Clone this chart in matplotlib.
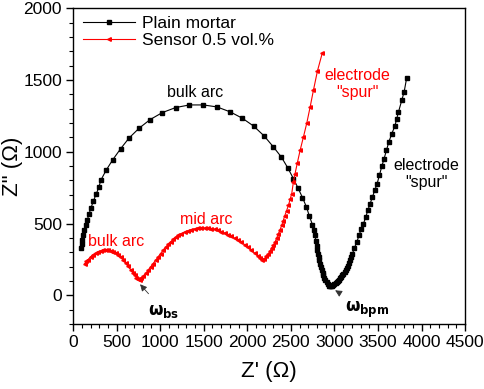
import matplotlib
matplotlib.use("Agg")
import matplotlib.pyplot as plt
from matplotlib.ticker import MultipleLocator

plt.rcParams['font.family'] = ['Liberation Sans', 'DejaVu Sans']

# Plain mortar (black)
plain_x = [92, 100, 107, 118, 130, 146, 164, 184, 207, 233, 264, 295, 318, 379, 456, 547, 643, 758,
           884, 1025, 1179, 1335, 1496, 1653, 1806, 1944, 2074, 2193, 2296, 2392, 2465, 2529, 2583,
           2633, 2679, 2713, 2747, 2770, 2778, 2786, 2795, 2805, 2813, 2821, 2828, 2835, 2845, 2855,
           2864, 2873, 2884, 2896, 2910, 2924, 2937, 2950, 2962, 2975, 2988, 3000, 3013, 3027, 3040,
           3053, 3065, 3078, 3090, 3103, 3116, 3130, 3142, 3155, 3168, 3180, 3193, 3207, 3229, 3257,
           3283, 3306, 3333, 3360, 3383, 3410, 3436, 3463, 3490, 3516, 3544, 3570, 3597, 3624, 3659,
           3693, 3715, 3735, 3773, 3800, 3829]
plain_y = [330, 360, 388, 418, 453, 488, 527, 569, 611, 657, 704, 751, 801, 871, 945, 1022, 1096, 1164,
           1224, 1273, 1308, 1326, 1326, 1312, 1277, 1233, 1178, 1110, 1036, 962, 887, 813, 746,
           681, 615, 550, 493, 453, 418, 380, 345, 314, 290, 267, 244, 221, 197, 174,
           156, 139, 121, 105, 90, 77, 67, 62, 63, 66, 70, 76, 84, 93, 101,
           110, 118, 128, 139, 151, 163, 176, 188, 205, 224, 244, 266, 290, 330, 372,
           418, 460, 499, 546, 592, 639, 685, 732, 778, 836, 899, 952, 1010, 1068, 1127,
           1178, 1230, 1277, 1359, 1417, 1514]

# Sensor 0.5 vol.% (red)
sensor_x = [134, 150, 172, 200, 230, 258, 287, 315, 344, 373, 402, 430, 459, 488, 517, 545, 574, 602,
            631, 660, 689, 708, 727, 746, 765, 785, 804, 832, 861, 890, 918, 947, 976, 1004, 1033,
            1062, 1091, 1120, 1148, 1177, 1205, 1243, 1282, 1320, 1358, 1396, 1435, 1473, 1512, 1550,
            1588, 1626, 1665, 1703, 1741, 1780, 1818, 1856, 1894, 1932, 1971, 2009, 2047, 2085, 2124,
            2150, 2173, 2195, 2220, 2242, 2262, 2280, 2300, 2319, 2338, 2357, 2376, 2395, 2412, 2430,
            2451, 2472, 2491, 2510, 2529, 2548, 2575, 2606, 2644, 2683, 2721, 2759, 2805, 2862]
sensor_y = [221, 236, 249, 268, 284, 294, 302, 309, 314, 315, 314, 309, 302, 294, 284, 268, 249, 226,
            202, 179, 156, 139, 123, 112, 109, 120, 132, 152, 174, 198, 221, 244, 267, 291, 314,
            335, 355, 373, 390, 405, 418, 430, 441, 450, 458, 463, 467, 469, 469, 468,
            465, 460, 453, 444, 434, 423, 411, 397, 383, 368, 353, 334, 314, 293, 272,
            258, 249, 255, 272, 290, 310, 330, 350, 372, 400, 430, 458, 488, 520, 555,
            590, 627, 668, 709, 790, 848, 925, 1010, 1103, 1201, 1312, 1429, 1563, 1691]

fig = plt.figure(figsize=(4.84, 3.89), dpi=100)
ax = fig.add_axes([0.151, 0.167, 0.810, 0.812])

ax.plot(plain_x, plain_y, color='black', lw=0.8, marker='s', ms=2.2, mec='black', mfc='black',
        label='Plain mortar')
ax.plot(sensor_x, sensor_y, color='red', lw=0.8, marker='<', ms=2.6, mec='red', mfc='red',
        label='Sensor 0.5 vol.%')

ax.set_xlim(0, 4500)
ax.set_ylim(-200, 2000)
ax.xaxis.set_major_locator(MultipleLocator(500))
ax.xaxis.set_minor_locator(MultipleLocator(100))
ax.yaxis.set_major_locator(MultipleLocator(500))
ax.yaxis.set_minor_locator(MultipleLocator(100))
ax.tick_params(which='major', direction='out', length=5, width=1, labelsize=12.5, pad=3)
ax.tick_params(which='minor', direction='out', length=3, width=0.8)
ax.set_yticks([0, 500, 1000, 1500, 2000])
for s in ax.spines.values():
    s.set_linewidth(1.0)

ax.set_xlabel("Z' (Ω)", fontsize=16, labelpad=8)
ax.set_ylabel('Z" (Ω)', fontsize=16, labelpad=0)

leg = ax.legend(loc='upper left', frameon=False, fontsize=12.5, handlelength=3.0,
                borderaxespad=0.3, labelspacing=0.15, handletextpad=0.4,
                bbox_to_anchor=(-0.005, 1.015))

ax.text(1406, 1411, 'bulk arc', ha='center', va='center', fontsize=11.5, color='black')
ax.text(499, 376, 'bulk arc', ha='center', va='center', fontsize=11.5, color='red')
ax.text(1527, 530, 'mid arc', ha='center', va='center', fontsize=11.5, color='red')
ax.text(3266, 1474, 'electrode\n"spur"', ha='center', va='center', fontsize=11.5, color='red',
        linespacing=1.15)
ax.text(4058, 843, 'electrode\n"spur"', ha='center', va='center', fontsize=11.5, color='black',
        linespacing=1.15)

ax.annotate(r'$\mathbf{\omega_{bs}}$', xy=(769, 77), xytext=(1045, -111), ha='center', va='center',
            fontsize=12,
            arrowprops=dict(arrowstyle='-|>', color='#333333', lw=0.6, mutation_scale=10,
                            shrinkA=6, shrinkB=0))
ax.annotate(r'$\mathbf{\omega_{bpm}}$', xy=(3008, 35), xytext=(3381, -104), ha='center', va='center',
            fontsize=12,
            arrowprops=dict(arrowstyle='-|>', color='#333333', lw=0.6, mutation_scale=10,
                            shrinkA=8, shrinkB=0))

fig.savefig('out.png', dpi=100)
